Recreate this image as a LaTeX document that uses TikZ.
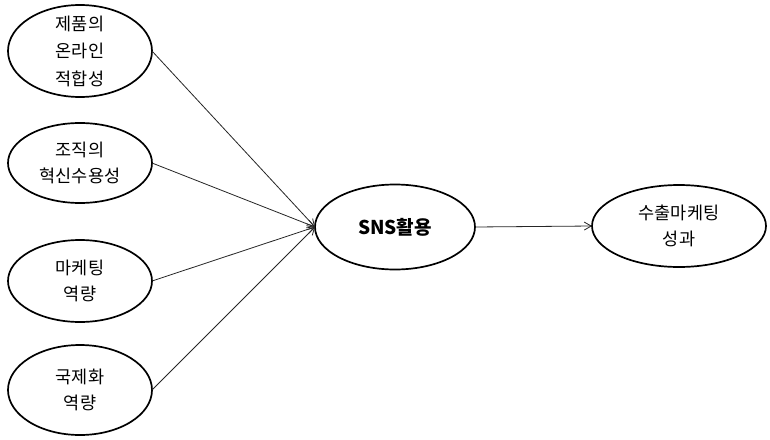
\documentclass[tikz,border=0pt]{standalone}
\usepackage{fontspec}
\setmainfont{Noto Sans CJK KR}
\usetikzlibrary{shapes.geometric,arrows.meta}
\begin{document}
\begin{tikzpicture}[x=1pt,y=-1pt,
  oval/.style={draw=black,line width=1.7pt,ellipse,inner sep=0pt,outer sep=0pt},
  txt/.style={align=center,font=\fontsize{17.5}{26}\selectfont,inner sep=0pt},
  conn/.style={draw=black!85,line width=0.8pt,-{Straight Barb[length=7pt,width=8pt,line width=0.8pt]}}
]
\useasboundingbox[fill=white] (0,0) rectangle (770,439);
\node[oval,minimum width=144pt,minimum height=92pt] (e1) at (80,51) {};
\node[oval,minimum width=144pt,minimum height=80pt] (e2) at (80,163) {};
\node[oval,minimum width=144pt,minimum height=82pt] (e3) at (80,281) {};
\node[oval,minimum width=144pt,minimum height=90pt] (e4) at (80,390) {};
\node[oval,minimum width=160pt,minimum height=85pt] (sns) at (395,227) {};
\node[oval,minimum width=174pt,minimum height=82pt] (out) at (679,226) {};
\node[txt,font=\fontsize{17.5}{27.5}\selectfont] (t1) at (e1) {제품의\\온라인\\적합성};
\node[txt] (t2) at (e2) {조직의\\혁신수용성};
\node[txt] (t3) at (e3) {마케팅\\역량};
\node[txt] (t4) at (e4) {국제화\\역량};
\node[txt,font=\fontsize{19}{26}\selectfont\bfseries] (t5) at (sns) {SNS활용};
\node[txt] (t6) at (out) {수출마케팅\\성과};
\draw[conn] (e1.east) -- (sns.west);
\draw[conn] (e2.east) -- (sns.west);
\draw[conn] (e3.east) -- (sns.west);
\draw[conn] (e4.east) -- (sns.west);
\draw[conn] (sns.east) -- (out.west);
\end{tikzpicture}
\end{document}
